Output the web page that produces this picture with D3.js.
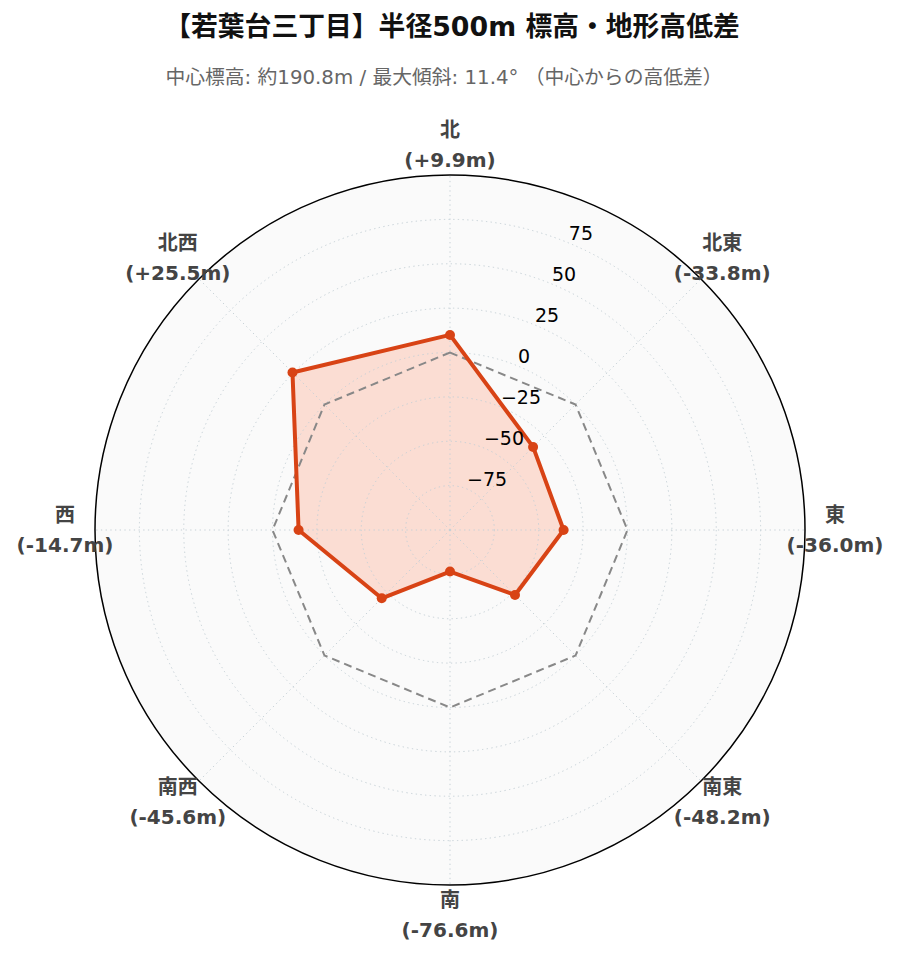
<!DOCTYPE html>
<html><head><meta charset="utf-8">
<script src="https://cdn.jsdelivr.net/npm/d3@7"></script>
<style>body{margin:0;background:#fff}svg{display:block}</style>
</head><body>
<script>
const directions = ["北","北東","東","南東","南","南西","西","北西"];
const values = [9.9, -33.8, -36.0, -48.2, -76.6, -45.6, -14.7, 25.5];
const valueLabels = ["(+9.9m)","(-33.8m)","(-36.0m)","(-48.2m)","(-76.6m)","(-45.6m)","(-14.7m)","(+25.5m)"];
const radialTicks = [-75, -50, -25, 0, 25, 50, 75];
const radialTickLabels = ["\u221275","\u221250","\u221225","0","25","50","75"];
const radialDomain = [-100, 100];
const title = "【若葉台三丁目】半径500m 標高・地形高低差";
const subtitle = "中心標高: 約190.8m / 最大傾斜: 11.4° （中心からの高低差）";

const W = 899, H = 962, cx = 450, cy = 530, R = 355;
const FONT = "'DejaVu Sans','Noto Sans CJK JP',sans-serif";
const svg = d3.select("body").append("svg").attr("width", W).attr("height", H);

const r = d3.scaleLinear().domain(radialDomain).range([0, R]);
const ang = d3.scaleLinear().domain([0, directions.length]).range([0, 2*Math.PI]);

svg.append("text").attr("x", 452).attr("y", 36).attr("text-anchor","middle")
  .attr("font-family", FONT).attr("font-weight","bold").attr("font-size", 26.8).attr("fill","#111").text(title);
svg.append("text").attr("x", 444).attr("y", 84).attr("text-anchor","middle")
  .attr("font-family", FONT).attr("font-size", 19.8).attr("fill","#666").text(subtitle);

const g = svg.append("g").attr("transform", `translate(${cx},${cy})`);
g.append("circle").attr("r", R).attr("fill", "#fafafa");

// data fill (below grid)
const radial = d3.lineRadial().angle((d,i)=>ang(i)).radius(d=>r(d)).curve(d3.curveLinearClosed);
g.append("path").attr("d", radial(values)).attr("fill", "rgba(255,87,34,0.18)").attr("stroke","none");

// grid
const gridColor = "#c5d0d6";
radialTicks.forEach(v => {
  g.append("circle").attr("r", r(v)).attr("fill","none").attr("stroke", gridColor)
    .attr("stroke-width", 1).attr("stroke-dasharray","1.3,3.4");
});
directions.forEach((d,i) => {
  const a = ang(i);
  g.append("line").attr("x1",0).attr("y1",0).attr("x2", R*Math.sin(a)).attr("y2", -R*Math.cos(a))
    .attr("stroke", gridColor).attr("stroke-width",1).attr("stroke-dasharray","1.3,3.4");
});

// zero reference
g.append("path").attr("d", radial(directions.map(()=>0))).attr("fill","none")
  .attr("stroke","#888").attr("stroke-width",2).attr("stroke-dasharray","8,5");

// outer circle
g.append("circle").attr("r", R).attr("fill","none").attr("stroke","#000").attr("stroke-width",1.5);

// data line
g.append("path").attr("d", radial(values)).attr("fill","none").attr("stroke","#d84315")
  .attr("stroke-width",4).attr("stroke-linejoin","round");
g.selectAll("circle.pt").data(values).enter().append("circle").attr("class","pt")
  .attr("cx",(d,i)=>r(d)*Math.sin(ang(i))).attr("cy",(d,i)=>-r(d)*Math.cos(ang(i)))
  .attr("r",5).attr("fill","#d84315");

// radial tick labels
const la = Math.PI/8;
radialTicks.forEach((v,i) => {
  g.append("text").attr("x", r(v)*Math.sin(la)).attr("y", -r(v)*Math.cos(la) - 3.5)
    .attr("font-family", FONT).attr("font-size",19).attr("fill","#000").attr("text-anchor","start")
    .text(radialTickLabels[i]);
});

// direction labels
const LR = 385;
directions.forEach((d,i) => {
  const a = ang(i), x = LR*Math.sin(a), y = -LR*Math.cos(a);
  const t = g.append("text").attr("text-anchor","middle").attr("font-family", FONT)
    .attr("font-weight","bold").attr("font-size",20).attr("fill","#444");
  t.append("tspan").attr("x", x).attr("y", y - 15 + 7).text(d);
  t.append("tspan").attr("x", x).attr("y", y + 15 + 7).text(valueLabels[i]);
});
</script>
</body></html>
